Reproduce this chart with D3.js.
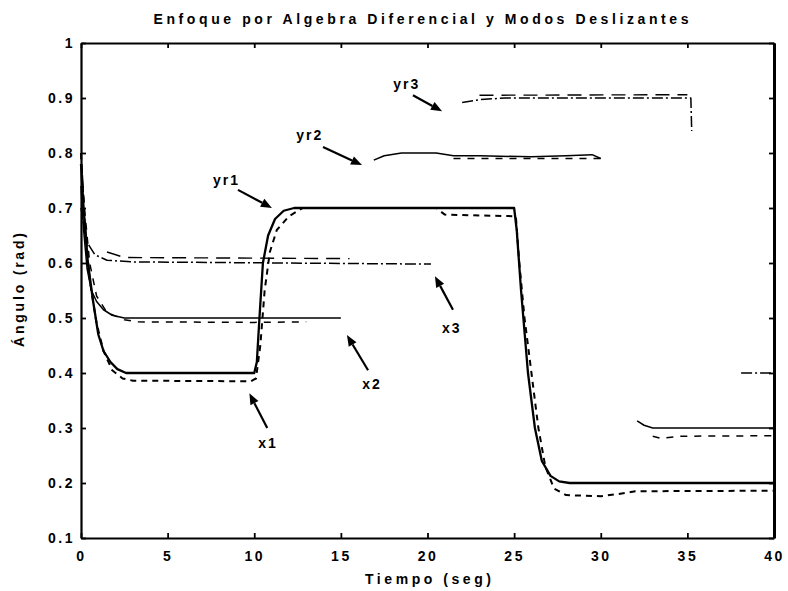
<!DOCTYPE html>
<html>
<head>
<meta charset="utf-8">
<script src="https://cdn.jsdelivr.net/npm/d3@7"></script>
<style>
  html, body { margin: 0; padding: 0; background: #fff; }
  svg { display: block; }
  text { font-family: "Liberation Sans", Arial, sans-serif; font-weight: bold; fill: #000; }
</style>
</head>
<body>
<svg id="chart" width="788" height="591"></svg>
<script>
// ---------- data ----------
const titleText = "Enfoque por Algebra Diferencial y Modos Deslizantes";
const xLabelText = "Tiempo (seg)";
const yLabelText = "Ángulo (rad)";

const xTicks = [0, 5, 10, 15, 20, 25, 30, 35, 40];
const xTickLabels = ["0", "5", "10", "15", "20", "25", "30", "35", "40"];
const yTicks = [0.1, 0.2, 0.3, 0.4, 0.5, 0.6, 0.7, 0.8, 0.9, 1.0];
const yTickLabels = ["0.1", "0.2", "0.3", "0.4", "0.5", "0.6", "0.7", "0.8", "0.9", "1"];

// [tiempo, ángulo]; null = gap in the trace
const yr1 = [[0,0.78],[0.15,0.70],[0.4,0.60],[0.7,0.53],[1.0,0.47],[1.3,0.44],[1.7,0.42],[2.1,0.407],[2.6,0.40],
  [10.0,0.40],[10.15,0.42],[10.3,0.50],[10.5,0.60],[10.8,0.65],[11.2,0.68],[11.7,0.695],[12.3,0.70],
  [25.0,0.70],[25.15,0.66],[25.4,0.55],[25.8,0.40],[26.2,0.30],[26.6,0.24],[27.1,0.213],[27.6,0.203],[28.2,0.20],[40,0.20]];
const x1 = [[0,0.80],[0.2,0.68],[0.5,0.57],[0.9,0.49],[1.3,0.44],[1.8,0.405],[2.4,0.39],[3.0,0.386],[9.8,0.385],
  [10.1,0.39],[10.35,0.45],[10.6,0.55],[10.9,0.62],[11.3,0.66],[12.0,0.685],[12.8,0.70],[20.5,0.70],[21.0,0.688],[25.1,0.685],
  [25.3,0.60],[25.6,0.50],[26.0,0.40],[26.4,0.30],[26.8,0.23],[27.3,0.19],[28.0,0.178],[30.0,0.176],[31.0,0.18],[32.0,0.185],[40,0.186]];
const yr2 = [[0,0.74],[0.15,0.66],[0.35,0.59],[0.6,0.55],[0.9,0.53],[1.3,0.515],[1.8,0.505],[2.5,0.50],[15.0,0.50],[15.0,null],
  [16.9,0.787],[17.5,0.795],[18.5,0.80],[20.5,0.80],[21.5,0.795],[23.0,0.795],[26.0,0.793],[28.0,0.795],[29.5,0.797],[30.0,0.79],[30.0,null],
  [32.1,0.313],[32.5,0.305],[33.0,0.30],[40,0.30]];
const x2 = [[0,0.80],[0.2,0.70],[0.5,0.60],[0.9,0.54],[1.5,0.51],[2.5,0.497],[3.3,0.493],[10.0,0.492],[13.0,0.493],[13.0,null],
  [21.5,0.79],[30.0,0.79],[30.0,null],
  [33.0,0.285],[33.5,0.281],[34.5,0.285],[40,0.286]];
const yr3 = [[0,0.70],[0.3,0.64],[0.8,0.615],[1.5,0.605],[3.0,0.602],[20.2,0.598],[20.2,null],
  [22.0,0.892],[23.0,0.897],[24.5,0.90],[35.2,0.90],[35.25,0.84],[35.25,null],
  [38.1,0.40],[40,0.40]];
const x3 = [[1.5,0.62],[2.5,0.61],[15.5,0.608],[15.5,null],[23.0,0.905],[35.0,0.906]];

// annotations: label, label position, arrow tail, arrow head (data units)
const notes = [
  { text: "yr1", at: [8.4, 0.751], from: [9.06, 0.733], to: [11.02, 0.70] },
  { text: "yr2", at: [13.2, 0.833], from: [13.97, 0.811], to: [16.22, 0.778] },
  { text: "yr3", at: [18.8, 0.925], from: [19.16, 0.905], to: [20.84, 0.876] },
  { text: "x3",  at: [21.4, 0.482], from: [21.47, 0.515], to: [20.43, 0.576] },
  { text: "x2",  at: [16.8, 0.380], from: [16.57, 0.405], to: [15.35, 0.469] },
  { text: "x1",  at: [10.8, 0.273], from: [10.75, 0.300], to: [9.72, 0.363] }
];

// ---------- layout ----------
const svg = d3.select("#chart");
const mLeft = 81, mRight = 774, mTop = 43, mBottom = 538;
const x = d3.scaleLinear().domain([0, 40]).range([mLeft, mRight]);
const y = d3.scaleLinear().domain([0.1, 1]).range([mBottom, mTop]);

// traces
const line = d3.line()
  .defined(d => d[1] !== null)
  .x(d => x(d[0]))
  .y(d => y(d[1]));

const styles = [
  { data: x1,  w: 2.0, dash: "6,5" },
  { data: yr1, w: 2.3, dash: null },
  { data: yr2, w: 1.5, dash: null },
  { data: x2,  w: 1.5, dash: "7,7" },
  { data: yr3, w: 1.5, dash: "11,3,2,3" },
  { data: x3,  w: 1.4, dash: "14,8" }
];
svg.append("g").selectAll("path").data(styles).join("path")
  .attr("d", d => line(d.data))
  .attr("fill", "none")
  .attr("stroke", "#000")
  .attr("stroke-width", d => d.w)
  .attr("stroke-dasharray", d => d.dash)
  .attr("stroke-linejoin", "round");

// axes (inward ticks on all four sides)
function styleAxis(g) {
  g.select(".domain").attr("stroke", "#000").attr("stroke-width", 2.2);
  g.selectAll(".tick line").attr("stroke", "#000").attr("stroke-width", 1.8);
  g.selectAll("text").style("font-size", "14px").style("letter-spacing", "2.5px")
    .style("font-family", "'Liberation Sans', Arial, sans-serif").style("font-weight", "bold");
}
svg.append("g").attr("transform", `translate(0,${mBottom})`)
  .call(d3.axisBottom(x).tickValues(xTicks).tickFormat((d, i) => xTickLabels[i]).tickSize(-5).tickSizeOuter(0).tickPadding(13))
  .call(styleAxis);
svg.append("g").attr("transform", `translate(0,${mTop})`)
  .call(d3.axisTop(x).tickValues(xTicks).tickFormat("").tickSize(-5).tickSizeOuter(0))
  .call(styleAxis);
svg.append("g").attr("transform", `translate(${mLeft},0)`)
  .call(d3.axisLeft(y).tickValues(yTicks).tickFormat((d, i) => yTickLabels[i]).tickSize(-5).tickSizeOuter(0).tickPadding(6))
  .call(styleAxis);
svg.append("g").attr("transform", `translate(${mRight},0)`)
  .call(d3.axisRight(y).tickValues(yTicks).tickFormat("").tickSize(-5).tickSizeOuter(0))
  .call(g => { styleAxis(g); g.select(".domain").attr("stroke-width", 3); });

// annotations
const ann = svg.append("g");
notes.forEach(n => {
  const x0 = x(n.from[0]), y0 = y(n.from[1]);
  const x1p = x(n.to[0]), y1p = y(n.to[1]);
  const ang = Math.atan2(y1p - y0, x1p - x0);
  const L = 11, W = 4.5;
  const bx = x1p - L * Math.cos(ang), by = y1p - L * Math.sin(ang);
  ann.append("line")
    .attr("x1", x0).attr("y1", y0).attr("x2", bx).attr("y2", by)
    .attr("stroke", "#000").attr("stroke-width", 2.2);
  ann.append("path")
    .attr("d", `M${x1p},${y1p}L${bx + W * Math.sin(ang)},${by - W * Math.cos(ang)}L${bx - W * Math.sin(ang)},${by + W * Math.cos(ang)}Z`)
    .attr("fill", "#000");
  ann.append("text")
    .attr("x", x(n.at[0])).attr("y", y(n.at[1]))
    .attr("text-anchor", "middle").attr("dy", "0.35em")
    .style("font-size", "14px").style("letter-spacing", "2px")
    .text(n.text);
});

// titles
svg.append("text")
  .attr("x", 421).attr("y", 24).attr("text-anchor", "middle")
  .attr("textLength", 535).attr("lengthAdjust", "spacing")
  .style("font-size", "14px")
  .text(titleText);
svg.append("text")
  .attr("x", 428).attr("y", 584).attr("text-anchor", "middle")
  .attr("textLength", 126).attr("lengthAdjust", "spacing")
  .style("font-size", "14px")
  .text(xLabelText);
svg.append("text")
  .attr("transform", "translate(24,290) rotate(-90)")
  .attr("text-anchor", "middle")
  .attr("textLength", 114).attr("lengthAdjust", "spacing")
  .style("font-size", "14px")
  .text(yLabelText);
</script>
</body>
</html>
